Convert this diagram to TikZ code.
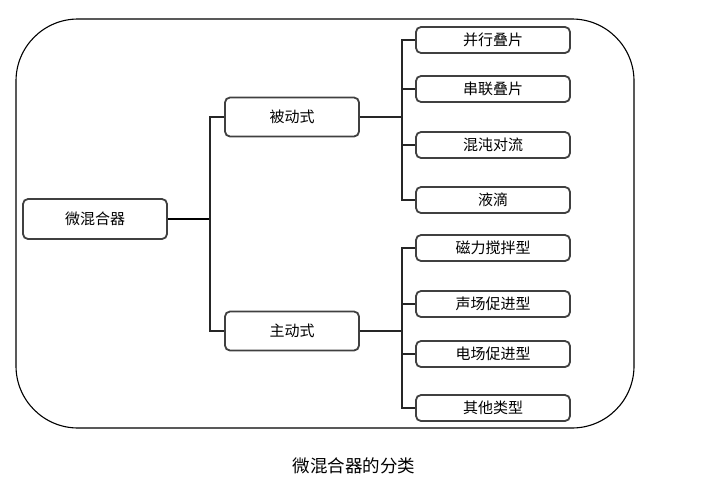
\documentclass[tikz,border=0pt]{standalone}
\usepackage{fontspec}
\newfontfamily\cjk{Noto Sans CJK SC}
\usetikzlibrary{positioning}
\begin{document}
\begin{tikzpicture}[x=1pt,y=-1pt,font=\cjk,
    box node/.style={draw=black!75,line width=1.8pt,rounded corners=5pt,
      font=\cjk\fontsize{15}{17}\selectfont},
    root node/.style={box node,minimum width=144pt,minimum height=40pt},
    mid node/.style={box node,minimum width=134pt,minimum height=39pt},
    leaf node/.style={box node,minimum width=154pt,minimum height=26pt},
    link/.style={draw=black!85,line width=1.8pt}]
    \useasboundingbox (0,0) rectangle (704,490);
    % outer frame
    \draw[line width=1.1pt,rounded corners=62pt] (16,19) rectangle (634,428);
    \node[root node] (mixer) at (95,219) {微混合器};
    \node[mid node] (passive) at (292,117) {被动式};
    \node[mid node] (active) at (292,331) {主动式};
    \node[leaf node] (pas_1) at (493,40) {并行叠片};
    \node[leaf node] (pas_2) at (493,89) {串联叠片};
    \node[leaf node] (pas_3) at (493,145) {混沌对流};
    \node[leaf node] (pas_4) at (493,200) {液滴};
    \node[leaf node] (act_1) at (493,248) {磁力搅拌型};
    \node[leaf node] (act_2) at (493,304) {声场促进型};
    \node[leaf node] (act_3) at (493,354) {电场促进型};
    \node[leaf node] (act_4) at (493,408) {其他类型};
    \coordinate (bus_root) at (210,219);
    \coordinate (bus_pas) at (402,117);
    \coordinate (bus_act) at (402,331);
    % connectors
    \draw[line width=1.1pt] (mixer.east) -- (bus_root);
    \draw[link] (passive.west) -| (bus_root) |- (active.west);
    \draw[link] (passive.east) -- (bus_pas);
    \draw[link] (pas_1.west) -| (bus_pas) |- (pas_4.west);
    \draw[link] (bus_pas |- pas_2.west) -- (pas_2.west);
    \draw[link] (bus_pas |- pas_3.west) -- (pas_3.west);
    \draw[link] (active.east) -- (bus_act);
    \draw[link] (act_1.west) -| (bus_act) |- (act_4.west);
    \draw[link] (bus_act |- act_2.west) -- (act_2.west);
    \draw[link] (bus_act |- act_3.west) -- (act_3.west);
    \node[font=\cjk\fontsize{17.5}{19}\selectfont] (caption) at (354,466) {微混合器的分类};
\end{tikzpicture}
\end{document}
